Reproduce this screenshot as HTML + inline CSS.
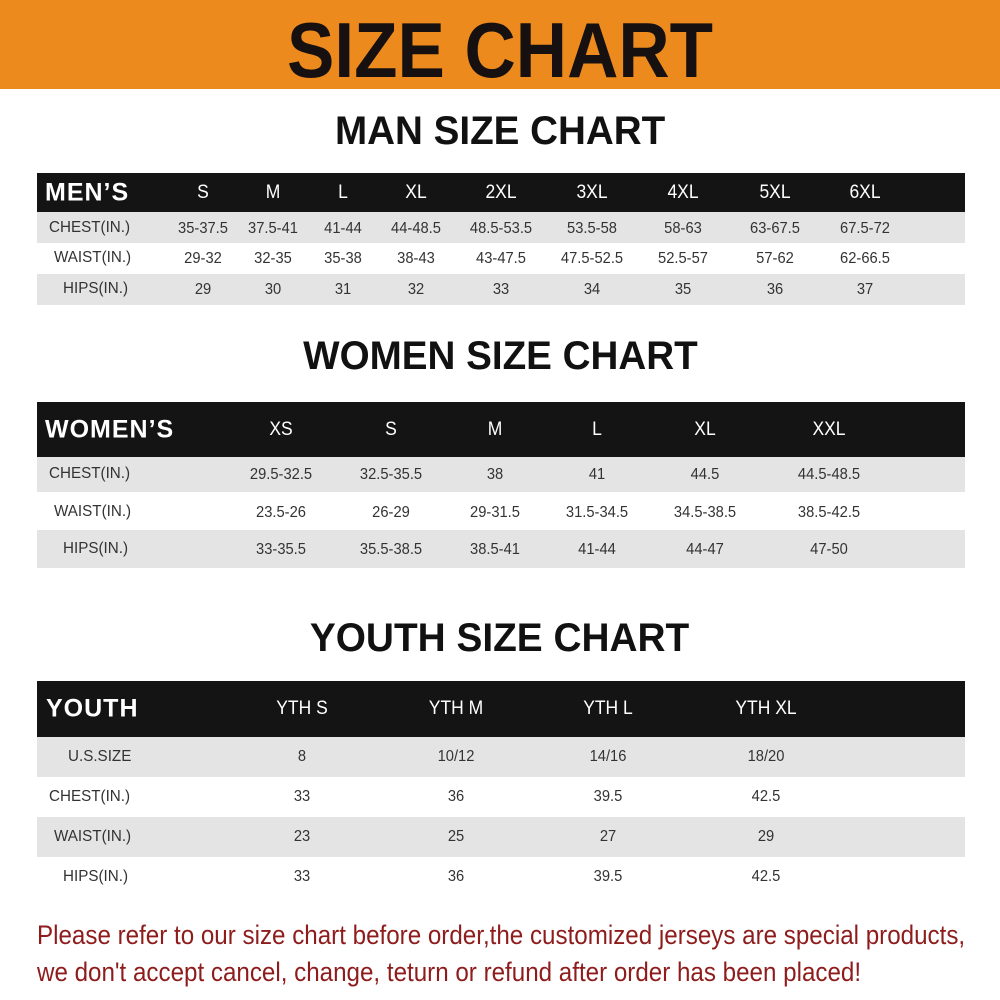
<!DOCTYPE html>
<html><head><meta charset="utf-8"><style>
*{margin:0;padding:0;box-sizing:border-box}
body{width:1000px;height:1000px;background:#fff;position:relative;overflow:hidden;font-family:"Liberation Sans",sans-serif;color:#222}
.abs{position:absolute}
.hdr{left:0;top:0;width:1000px;height:89px;background:#ec8a1e}
.t{position:absolute;left:0;width:1000px;text-align:center;color:#111;font-weight:bold;white-space:nowrap}
.t span{display:inline-block}
.bar{position:absolute;left:37px;width:928px}
.blk{background:#141414}
.g{background:#e4e4e4}
.c{position:absolute;transform:translate(-50%,-50%) scaleX(0.92);white-space:nowrap;font-size:16px;color:#333}
.w{color:#fff;font-size:19px}
.lb{position:absolute;transform:translateY(-50%) scaleX(0.95);transform-origin:left center;white-space:nowrap;font-size:16px;color:#333}
.hl{position:absolute;transform:translateY(-50%);color:#fff;font-weight:bold;font-size:25px;letter-spacing:1px}
.red{position:absolute;left:37px;color:#8e1c1c;font-size:27px;white-space:nowrap;transform-origin:left top}
</style></head><body>
<div class="abs hdr"></div>
<div class="t" style="top:10px;font-size:78px;line-height:80px;color:#161010"><span style="transform:scaleX(0.91)">SIZE CHART</span></div>
<div class="t" style="top:107px;font-size:40px;line-height:48px"><span style="transform:scaleX(0.965)">MAN SIZE CHART</span></div>
<div class="t" style="top:332px;font-size:40px;line-height:48px"><span style="transform:scaleX(0.965)">WOMEN SIZE CHART</span></div>
<div class="t" style="top:614px;font-size:40px;line-height:48px"><span style="transform:scaleX(0.97)">YOUTH SIZE CHART</span></div>

<!-- men -->
<div class="bar blk" style="top:173px;height:39px"></div>
<div class="bar g" style="top:212px;height:31px"></div>
<div class="bar g" style="top:274px;height:31px"></div>
<div class="hl" style="left:45px;top:193px">MEN’S</div>
<div class="c w" style="left:203px;top:193px">S</div><div class="c w" style="left:273px;top:193px">M</div><div class="c w" style="left:343px;top:193px">L</div><div class="c w" style="left:416px;top:193px">XL</div><div class="c w" style="left:501px;top:193px">2XL</div><div class="c w" style="left:592px;top:193px">3XL</div><div class="c w" style="left:683px;top:193px">4XL</div><div class="c w" style="left:775px;top:193px">5XL</div><div class="c w" style="left:865px;top:193px">6XL</div>
<div class="lb" style="left:49px;top:228px">CHEST(IN.)</div>
<div class="c" style="left:203px;top:229px">35-37.5</div><div class="c" style="left:273px;top:229px">37.5-41</div><div class="c" style="left:343px;top:229px">41-44</div><div class="c" style="left:416px;top:229px">44-48.5</div><div class="c" style="left:501px;top:229px">48.5-53.5</div><div class="c" style="left:592px;top:229px">53.5-58</div><div class="c" style="left:683px;top:229px">58-63</div><div class="c" style="left:775px;top:229px">63-67.5</div><div class="c" style="left:865px;top:229px">67.5-72</div>
<div class="lb" style="left:54px;top:258px">WAIST(IN.)</div>
<div class="c" style="left:203px;top:259px">29-32</div><div class="c" style="left:273px;top:259px">32-35</div><div class="c" style="left:343px;top:259px">35-38</div><div class="c" style="left:416px;top:259px">38-43</div><div class="c" style="left:501px;top:259px">43-47.5</div><div class="c" style="left:592px;top:259px">47.5-52.5</div><div class="c" style="left:683px;top:259px">52.5-57</div><div class="c" style="left:775px;top:259px">57-62</div><div class="c" style="left:865px;top:259px">62-66.5</div>
<div class="lb" style="left:63px;top:289px">HIPS(IN.)</div>
<div class="c" style="left:203px;top:290px">29</div><div class="c" style="left:273px;top:290px">30</div><div class="c" style="left:343px;top:290px">31</div><div class="c" style="left:416px;top:290px">32</div><div class="c" style="left:501px;top:290px">33</div><div class="c" style="left:592px;top:290px">34</div><div class="c" style="left:683px;top:290px">35</div><div class="c" style="left:775px;top:290px">36</div><div class="c" style="left:865px;top:290px">37</div>

<!-- women -->
<div class="bar blk" style="top:402px;height:55px"></div>
<div class="bar g" style="top:457px;height:35px"></div>
<div class="bar g" style="top:530px;height:38px"></div>
<div class="hl" style="left:45px;top:430px">WOMEN’S</div>
<div class="c w" style="left:281px;top:430px">XS</div><div class="c w" style="left:391px;top:430px">S</div><div class="c w" style="left:495px;top:430px">M</div><div class="c w" style="left:597px;top:430px">L</div><div class="c w" style="left:705px;top:430px">XL</div><div class="c w" style="left:829px;top:430px">XXL</div>
<div class="lb" style="left:49px;top:474px">CHEST(IN.)</div>
<div class="c" style="left:281px;top:475px">29.5-32.5</div><div class="c" style="left:391px;top:475px">32.5-35.5</div><div class="c" style="left:495px;top:475px">38</div><div class="c" style="left:597px;top:475px">41</div><div class="c" style="left:705px;top:475px">44.5</div><div class="c" style="left:829px;top:475px">44.5-48.5</div>
<div class="lb" style="left:54px;top:512px">WAIST(IN.)</div>
<div class="c" style="left:281px;top:513px">23.5-26</div><div class="c" style="left:391px;top:513px">26-29</div><div class="c" style="left:495px;top:513px">29-31.5</div><div class="c" style="left:597px;top:513px">31.5-34.5</div><div class="c" style="left:705px;top:513px">34.5-38.5</div><div class="c" style="left:829px;top:513px">38.5-42.5</div>
<div class="lb" style="left:63px;top:549px">HIPS(IN.)</div>
<div class="c" style="left:281px;top:550px">33-35.5</div><div class="c" style="left:391px;top:550px">35.5-38.5</div><div class="c" style="left:495px;top:550px">38.5-41</div><div class="c" style="left:597px;top:550px">41-44</div><div class="c" style="left:705px;top:550px">44-47</div><div class="c" style="left:829px;top:550px">47-50</div>

<!-- youth -->
<div class="bar blk" style="top:681px;height:56px"></div>
<div class="bar g" style="top:737px;height:40px"></div>
<div class="bar g" style="top:817px;height:40px"></div>
<div class="hl" style="left:46px;top:709px">YOUTH</div>
<div class="c w" style="left:302px;top:709px">YTH S</div><div class="c w" style="left:456px;top:709px">YTH M</div><div class="c w" style="left:608px;top:709px">YTH L</div><div class="c w" style="left:766px;top:709px">YTH XL</div>
<div class="lb" style="left:68px;top:757px">U.S.SIZE</div>
<div class="c" style="left:302px;top:757px">8</div><div class="c" style="left:456px;top:757px">10/12</div><div class="c" style="left:608px;top:757px">14/16</div><div class="c" style="left:766px;top:757px">18/20</div>
<div class="lb" style="left:49px;top:797px">CHEST(IN.)</div>
<div class="c" style="left:302px;top:797px">33</div><div class="c" style="left:456px;top:797px">36</div><div class="c" style="left:608px;top:797px">39.5</div><div class="c" style="left:766px;top:797px">42.5</div>
<div class="lb" style="left:54px;top:837px">WAIST(IN.)</div>
<div class="c" style="left:302px;top:837px">23</div><div class="c" style="left:456px;top:837px">25</div><div class="c" style="left:608px;top:837px">27</div><div class="c" style="left:766px;top:837px">29</div>
<div class="lb" style="left:63px;top:877px">HIPS(IN.)</div>
<div class="c" style="left:302px;top:877px">33</div><div class="c" style="left:456px;top:877px">36</div><div class="c" style="left:608px;top:877px">39.5</div><div class="c" style="left:766px;top:877px">42.5</div>

<div class="red" style="top:918px;line-height:34px;transform:scaleX(0.895)">Please refer to our size chart before order,the customized jerseys are special products,</div>
<div class="red" style="top:955px;line-height:34px;transform:scaleX(0.895)">we don't accept cancel, change, teturn or refund after order has been placed!</div>
</body></html>
